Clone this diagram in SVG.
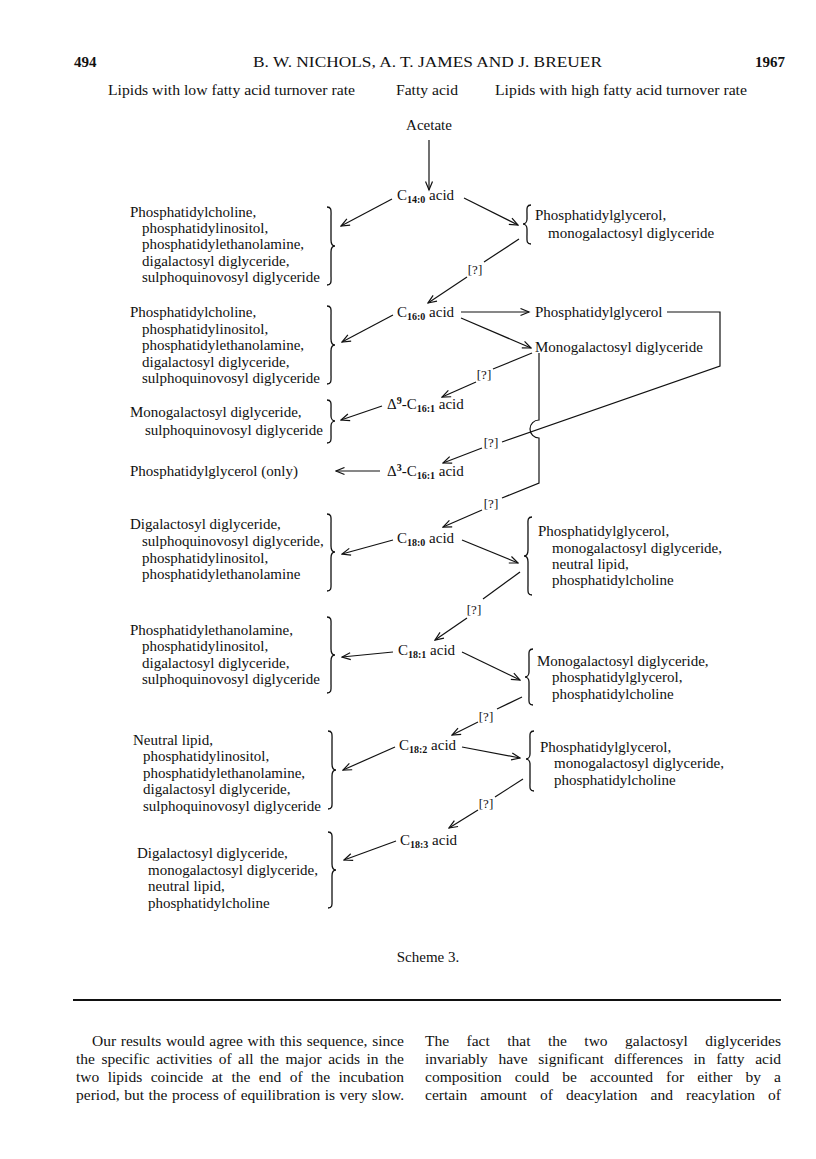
<svg xmlns="http://www.w3.org/2000/svg" width="816" height="1159" viewBox="0 0 816 1159">
<style>
.t{font-family:"Liberation Serif","DejaVu Serif",serif;font-size:15px;fill:#111}
.h{font-family:"Liberation Serif","DejaVu Serif",serif;font-size:15.5px;fill:#111}
.b{font-family:"Liberation Serif","DejaVu Serif",serif;font-size:15.5px;fill:#111}
.q{font-family:"Liberation Serif","DejaVu Serif",serif;font-size:13px;fill:#111;text-anchor:middle}
.sub{font-size:10px;font-weight:bold}
.sup{font-size:10px;font-weight:bold}
.ln{fill:none;stroke:#111;stroke-width:1.2}
.br{fill:none;stroke:#111;stroke-width:1.3}
.ar{fill:none;stroke:#111;stroke-width:1.2;marker-end:url(#ah)}
</style>
<defs>
<marker id="ah" markerWidth="11" markerHeight="9" refX="9.5" refY="4.5" orient="auto" markerUnits="userSpaceOnUse">
<path d="M1,1 L9.5,4.5 L1,8" fill="none" stroke="#111" stroke-width="1.2"/>
</marker>
</defs>
<rect width="816" height="1159" fill="#fff"/>

<g id="header">
<text class="t" x="74" y="67" font-weight="bold">494</text>
<text class="t" x="253" y="67" font-size="16" textLength="349" lengthAdjust="spacingAndGlyphs">B. W. NICHOLS, A. T. JAMES AND J. BREUER</text>
<text class="t" x="785" y="67" font-weight="bold" text-anchor="end">1967</text>
<text class="h" x="108" y="95" textLength="247" lengthAdjust="spacingAndGlyphs">Lipids with low fatty acid turnover rate</text>
<text class="h" x="396" y="95" textLength="62" lengthAdjust="spacingAndGlyphs">Fatty acid</text>
<text class="h" x="495" y="95" textLength="252" lengthAdjust="spacingAndGlyphs">Lipids with high fatty acid turnover rate</text>
</g>

<g id="acetate"><text class="t" x="429" y="130" text-anchor="middle">Acetate</text></g>

<g id="c14"><text class="t" x="397" y="200">C<tspan class="sub" dy="3">14:0</tspan><tspan dy="-3"> acid</tspan></text></g>
<g id="c16"><text class="t" x="397" y="317">C<tspan class="sub" dy="3">16:0</tspan><tspan dy="-3"> acid</tspan></text></g>
<g id="d9c16"><text class="t" x="387" y="409">Δ<tspan class="sup" dy="-5">9</tspan><tspan dy="5">-C</tspan><tspan class="sub" dy="3">16:1</tspan><tspan dy="-3"> acid</tspan></text></g>
<g id="d3c16"><text class="t" x="387" y="476">Δ<tspan class="sup" dy="-5">3</tspan><tspan dy="5">-C</tspan><tspan class="sub" dy="3">16:1</tspan><tspan dy="-3"> acid</tspan></text></g>
<g id="c180"><text class="t" x="397" y="543">C<tspan class="sub" dy="3">18:0</tspan><tspan dy="-3"> acid</tspan></text></g>
<g id="c181"><text class="t" x="398" y="655">C<tspan class="sub" dy="3">18:1</tspan><tspan dy="-3"> acid</tspan></text></g>
<g id="c182"><text class="t" x="399" y="750">C<tspan class="sub" dy="3">18:2</tspan><tspan dy="-3"> acid</tspan></text></g>
<g id="c183"><text class="t" x="400" y="845">C<tspan class="sub" dy="3">18:3</tspan><tspan dy="-3"> acid</tspan></text></g>

<g id="low-c14">
<text class="t" x="130" y="217">Phosphatidylcholine,</text>
<text class="t" x="142" y="233">phosphatidylinositol,</text>
<text class="t" x="142" y="249">phosphatidylethanolamine,</text>
<text class="t" x="142" y="266">digalactosyl diglyceride,</text>
<text class="t" x="142" y="282">sulphoquinovosyl diglyceride</text>
<path class="br" d="M327,207 C332,207 331,211 331,217 L331,240 C331,244 333,246 335,246 C333,246 331,248 331,252 L331,275 C331,281 332,285 327,285"/>
</g>
<g id="high-c14">
<text class="t" x="535" y="220">Phosphatidylglycerol,</text>
<text class="t" x="548" y="238">monogalactosyl diglyceride</text>
<path class="br" d="M531,205 C526,205 527,209 527,214 L527,219 C527,222 525,224 523,224 C525,224 527,226 527,229 L527,234 C527,240 526,244 531,244"/>
</g>

<g id="low-c16">
<text class="t" x="130" y="317">Phosphatidylcholine,</text>
<text class="t" x="142" y="334">phosphatidylinositol,</text>
<text class="t" x="142" y="350">phosphatidylethanolamine,</text>
<text class="t" x="142" y="367">digalactosyl diglyceride,</text>
<text class="t" x="142" y="383">sulphoquinovosyl diglyceride</text>
<path class="br" d="M327,306 C332,306 331,310 331,316 L331,339 C331,343 333,345 335,345 C333,345 331,347 331,351 L331,374 C331,380 332,384 327,384"/>
</g>
<g id="pg-c16"><text class="t" x="535" y="317">Phosphatidylglycerol</text></g>
<g id="mgdg-c16"><text class="t" x="535" y="352">Monogalactosyl  diglyceride</text></g>

<g id="low-d9">
<text class="t" x="130" y="417">Monogalactosyl diglyceride,</text>
<text class="t" x="145" y="435">sulphoquinovosyl diglyceride</text>
<path class="br" d="M327,400 C332,400 331,404 331,409 L331,416 C331,419 333,421 335,421 C333,421 331,423 331,426 L331,434 C331,439 332,443 327,443"/>
</g>
<g id="low-d3"><text class="t" x="130" y="476">Phosphatidylglycerol (only)</text></g>

<g id="low-c180">
<text class="t" x="130" y="529">Digalactosyl diglyceride,</text>
<text class="t" x="142" y="546">sulphoquinovosyl diglyceride,</text>
<text class="t" x="142" y="563">phosphatidylinositol,</text>
<text class="t" x="142" y="579">phosphatidylethanolamine</text>
<path class="br" d="M327,514 C332,514 331,518 331,524 L331,546 C331,550 333,552 335,552 C333,552 331,554 331,558 L331,581 C331,587 332,591 327,591"/>
</g>
<g id="high-c180">
<text class="t" x="538" y="536">Phosphatidylglycerol,</text>
<text class="t" x="552" y="553">monogalactosyl diglyceride,</text>
<text class="t" x="552" y="569">neutral lipid,</text>
<text class="t" x="552" y="585">phosphatidylcholine</text>
<path class="br" d="M532,517 C527,517 528,521 528,527 L528,550 C528,554 526,556 524,556 C526,556 528,558 528,562 L528,585 C528,591 527,595 532,595"/>
</g>

<g id="low-c181">
<text class="t" x="130" y="635">Phosphatidylethanolamine,</text>
<text class="t" x="142" y="651">phosphatidylinositol,</text>
<text class="t" x="142" y="668">digalactosyl diglyceride,</text>
<text class="t" x="142" y="684">sulphoquinovosyl diglyceride</text>
<path class="br" d="M327,617 C332,617 331,621 331,627 L331,649 C331,653 333,655 335,655 C333,655 331,657 331,661 L331,683 C331,689 332,693 327,693"/>
</g>
<g id="high-c181">
<text class="t" x="537" y="666">Monogalactosyl diglyceride,</text>
<text class="t" x="552" y="682">phosphatidylglycerol,</text>
<text class="t" x="552" y="699">phosphatidylcholine</text>
<path class="br" d="M533,649 C528,649 529,653 529,658 L529,672 C529,675 527,677 525,677 C527,677 529,679 529,682 L529,696 C529,701 528,705 533,705"/>
</g>

<g id="low-c182">
<text class="t" x="133" y="745">Neutral lipid,</text>
<text class="t" x="143" y="761">phosphatidylinositol,</text>
<text class="t" x="143" y="778">phosphatidylethanolamine,</text>
<text class="t" x="143" y="794">digalactosyl diglyceride,</text>
<text class="t" x="143" y="811">sulphoquinovosyl diglyceride</text>
<path class="br" d="M328,731 C333,731 332,735 332,741 L332,764 C332,768 334,770 336,770 C334,770 332,772 332,776 L332,799 C332,805 333,809 328,809"/>
</g>
<g id="high-c182">
<text class="t" x="540" y="752">Phosphatidylglycerol,</text>
<text class="t" x="554" y="768">monogalactosyl diglyceride,</text>
<text class="t" x="554" y="785">phosphatidylcholine</text>
<path class="br" d="M534,731 C529,731 530,735 530,740 L530,754 C530,757 528,759 526,759 C528,759 530,761 530,764 L530,782 C530,787 529,791 534,791"/>
</g>

<g id="low-c183">
<text class="t" x="137" y="858">Digalactosyl diglyceride,</text>
<text class="t" x="148" y="875">monogalactosyl diglyceride,</text>
<text class="t" x="148" y="891">neutral lipid,</text>
<text class="t" x="148" y="908">phosphatidylcholine</text>
<path class="br" d="M328,832 C333,832 332,836 332,842 L332,864 C332,868 334,870 336,870 C334,870 332,872 332,876 L332,898 C332,904 333,908 328,908"/>
</g>

<g id="connectors">
<line class="ar" x1="429" y1="140" x2="429" y2="190"/>
<line class="ar" x1="392" y1="199" x2="341" y2="226"/>
<line class="ar" x1="464" y1="198" x2="518" y2="225"/>
<line class="ln" x1="519" y1="239" x2="484" y2="262"/>
<line class="ar" x1="467" y1="277" x2="428" y2="303"/>
<line class="ar" x1="393" y1="315" x2="342" y2="342"/>
<line class="ar" x1="461" y1="312" x2="529" y2="312"/>
<line class="ar" x1="461" y1="318" x2="531" y2="348"/>
<polyline class="ln" points="667,312 720,312 720,366 502,442"/>
<line class="ar" x1="482" y1="448" x2="443" y2="463"/>
<line class="ln" x1="532" y1="353" x2="493" y2="369"/>
<line class="ar" x1="476" y1="382" x2="442" y2="397"/>
<line class="ar" x1="382" y1="406" x2="341" y2="420"/>
<path class="ln" d="M539,353 V420 A9,9 0 0 0 539,438 V483 L502,498"/>
<line class="ar" x1="482" y1="510" x2="443" y2="527"/>
<line class="ar" x1="380" y1="471" x2="336" y2="471"/>
<line class="ar" x1="393" y1="540" x2="342" y2="554"/>
<line class="ar" x1="462" y1="540" x2="518" y2="563"/>
<line class="ln" x1="520" y1="572" x2="483" y2="599"/>
<line class="ar" x1="467" y1="618" x2="435" y2="640"/>
<line class="ar" x1="393" y1="652" x2="342" y2="657"/>
<line class="ar" x1="462" y1="652" x2="520" y2="680"/>
<line class="ln" x1="522" y1="697" x2="497" y2="709"/>
<line class="ar" x1="478" y1="722" x2="452" y2="735"/>
<line class="ar" x1="395" y1="747" x2="343" y2="770"/>
<line class="ar" x1="462" y1="747" x2="520" y2="758"/>
<line class="ln" x1="523" y1="779" x2="495" y2="797"/>
<line class="ar" x1="478" y1="810" x2="449" y2="828"/>
<line class="ar" x1="396" y1="841" x2="344" y2="860"/>
</g>

<g id="unknown-steps">
<text class="q" x="475" y="274">[?]</text>
<text class="q" x="484" y="379">[?]</text>
<text class="q" x="491" y="447">[?]</text>
<text class="q" x="491" y="508">[?]</text>
<text class="q" x="474" y="614">[?]</text>
<text class="q" x="486" y="721">[?]</text>
<text class="q" x="486" y="808">[?]</text>
</g>

<g id="caption"><text class="t" x="428" y="962" font-size="14" text-anchor="middle">Scheme 3.</text></g>

<line x1="73" y1="1000" x2="781" y2="1000" stroke="#111" stroke-width="2"/>

<g id="body">
<text class="b" x="92" y="1046" word-spacing="0.8" textLength="312" lengthAdjust="spacing">Our results would agree with this sequence, since</text>
<text class="b" x="76" y="1064" word-spacing="2.6" textLength="328" lengthAdjust="spacing">the specific activities of all the major acids in the</text>
<text class="b" x="76" y="1082" word-spacing="4.6" textLength="328" lengthAdjust="spacing">two lipids coincide at the end of the incubation</text>
<text class="b" x="76" y="1100" word-spacing="0.6" textLength="328" lengthAdjust="spacing">period, but the process of equilibration is very slow.</text>
<text class="b" x="425" y="1046" word-spacing="13.6" textLength="356" lengthAdjust="spacing">The fact that the two galactosyl diglycerides</text>
<text class="b" x="425" y="1064" word-spacing="6.7" textLength="356" lengthAdjust="spacing">invariably have significant differences in fatty acid</text>
<text class="b" x="425" y="1082" word-spacing="9.2" textLength="356" lengthAdjust="spacing">composition could be accounted for either by a</text>
<text class="b" x="425" y="1100" word-spacing="9.2" textLength="356" lengthAdjust="spacing">certain amount of deacylation and reacylation of</text>
</g>
</svg>
